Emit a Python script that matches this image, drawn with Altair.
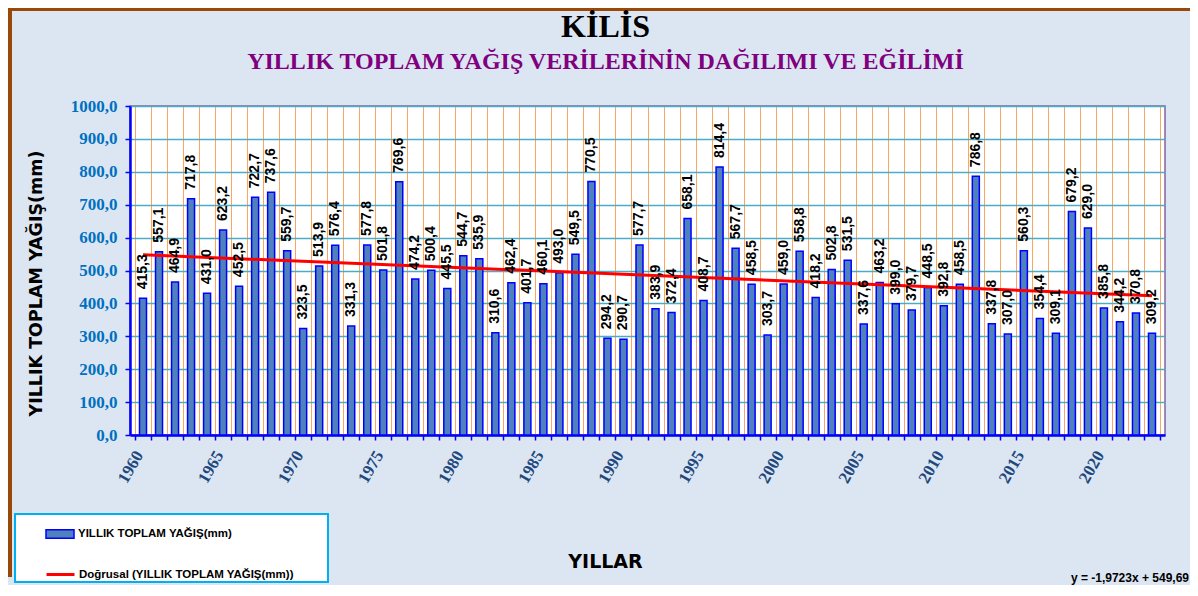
import altair as alt
import pandas as pd

years = list(range(1960, 2024))
values = [415.3, 557.1, 464.9, 717.8, 431.0, 623.2, 452.5, 722.7, 737.6, 559.7,
          323.5, 513.9, 576.4, 331.3, 577.8, 501.8, 769.6, 474.2, 500.4, 445.5,
          544.7, 535.9, 310.6, 462.4, 401.7, 460.1, 493.0, 549.5, 770.5, 294.2,
          290.7, 577.7, 383.9, 372.4, 658.1, 408.7, 814.4, 567.7, 458.5, 303.7,
          459.0, 558.8, 418.2, 502.8, 531.5, 337.6, 463.2, 399.0, 379.7, 448.5,
          392.8, 458.5, 786.8, 337.8, 307.0, 560.3, 354.4, 309.1, 679.2, 629.0,
          385.8, 344.2, 370.8, 309.2]
label_years = [1960, 1965, 1970, 1975, 1980, 1985, 1990, 1995, 2000, 2005, 2010, 2015, 2020]
y_ticks = [0, 100, 200, 300, 400, 500, 600, 700, 800, 900, 1000]
series_bar = "YILLIK TOPLAM  YAĞIŞ(mm)"
series_line = "Doğrusal  (YILLIK TOPLAM YAĞIŞ(mm))"

df = pd.DataFrame({"year": years, "value": values})
boundaries = [y - 0.5 for y in years] + [years[-1] + 0.5]

W, H = 1035, 329
xscale = alt.Scale(domain=[years[0] - 0.5, years[-1] + 0.5], nice=False, zero=False)
yscale = alt.Scale(domain=[0, 1000], nice=False)

grid_axis = alt.Axis(values=boundaries, labels=False, title=None, orient="bottom",
                     grid=True, gridColor="#F79646", gridWidth=1, gridOpacity=0.85,
                     ticks=True, tickColor="#0000FF", tickSize=5, tickWidth=1.5,
                     domain=True, domainColor="#0000FF", domainWidth=2.5)
label_axis = alt.Axis(values=label_years, orient="bottom", grid=False, ticks=False, tickSize=0,
                      domain=False, labelAngle=-60, labelFont="Liberation Serif",
                      labelFontWeight="bold", labelFontSize=17, labelColor="#1F497D",
                      labelPadding=17, labelOffset=-4, format="d",
                      title="YILLAR", titleFont="DejaVu Sans", titleFontWeight="bold",
                      titleFontSize=19, titleColor="black", titleX=475, titleY=117)
y_axis = alt.Axis(values=y_ticks, orient="left", format=".1f", grid=True,
                  gridColor="#4BACC6", gridWidth=1.5,
                  domain=True, domainColor="#0000FF", domainWidth=2.5,
                  ticks=True, tickColor="#0000FF", tickSize=5, tickWidth=1.5,
                  labels=True, labelFont="Liberation Serif", labelFontWeight="bold",
                  labelFontSize=17, labelColor="#0070C0", labelPadding=8,
                  title="YILLIK TOPLAM YAĞIŞ(mm)", titleFont="DejaVu Sans",
                  titleFontWeight="bold", titleFontSize=17.5, titleColor="black",
                  titlePadding=25, titleY=177)

base = alt.Chart(df)

bars = base.transform_calculate(s1=f"'{series_bar}'").mark_bar(
    size=7, stroke="#0000FF", strokeWidth=1.5
).encode(
    x=alt.X("year:Q", scale=xscale, axis=grid_axis),
    y=alt.Y("value:Q", scale=yscale, axis=y_axis),
    fill=alt.Fill("s1:N", scale=alt.Scale(domain=[series_bar], range=["#4F81BD"]),
                  legend=alt.Legend(title=None, orient="none", legendX=-85, legendY=413,
                                    padding=0, symbolType="M-1,-0.3L1,-0.3L1,0.3L-1,0.3Z",
                                    symbolSize=784, symbolStrokeColor="#0000FF",
                                    symbolStrokeWidth=1.5, labelFont="Liberation Sans",
                                    labelFontWeight="bold", labelFontSize=11.5,
                                    labelColor="black", labelOffset=3, labelLimit=400)),
)

texts = base.transform_calculate(
    lab="format(datum.value, '.1f')"
).mark_text(angle=270, align="left", baseline="middle", dx=9, font="Liberation Sans",
            fontWeight="bold", fontSize=14, color="black").encode(
    x=alt.X("year:Q", scale=xscale, axis=None),
    y=alt.Y("value:Q", scale=yscale, axis=y_axis),
    text="lab:N",
)

trend = base.transform_regression("year", "value").transform_calculate(
    s2=f"'{series_line}'"
).mark_line(strokeWidth=3).encode(
    x=alt.X("year:Q", scale=xscale, axis=label_axis),
    y=alt.Y("value:Q", scale=yscale, axis=y_axis),
    stroke=alt.Stroke("s2:N", scale=alt.Scale(domain=[series_line], range=["#FF0000"]),
                      legend=alt.Legend(title=None, orient="none", legendX=-85, legendY=453,
                                        padding=0, symbolType="stroke", symbolSize=784,
                                        symbolStrokeWidth=3, labelFont="Liberation Sans",
                                        labelFontWeight="bold", labelFontSize=11.5,
                                        labelColor="black", labelOffset=3, labelLimit=400)),
)

eq = base.transform_calculate(idx="datum.year - 1959").transform_regression(
    "idx", "value", params=True
).transform_calculate(
    eq="'y = ' + format(datum.coef[1], '.4f') + 'x + ' + format(datum.coef[0], '.2f')"
).mark_text(align="right", baseline="alphabetic", font="Liberation Sans",
            fontWeight="bold", fontSize=12, color="black").encode(
    x=alt.value(1059), y=alt.value(476), text="eq:N"
)

box = alt.Chart(pd.DataFrame({"k": [0]})).mark_rect(
    fill="white", stroke="#00B0F0", strokeWidth=2
).encode(x=alt.value(-115), x2=alt.value(198), y=alt.value(408), y2=alt.value(476))

frame_left = alt.Chart(pd.DataFrame({"k": [0]})).mark_rule(
    color="#984807", strokeWidth=4
).encode(x=alt.value(-120), y=alt.value(-98), y2=alt.value(471))
frame_top = alt.Chart(pd.DataFrame({"k": [0]})).mark_rule(
    color="#984807", strokeWidth=3
).encode(x=alt.value(-122), x2=alt.value(1060), y=alt.value(-96.5))

chart = alt.layer(
    frame_left, frame_top, box, bars, trend, texts, eq
).resolve_axis(x="independent").properties(
    width=W, height=H,
    autosize=alt.AutoSizeParams(type="none"),
    padding={"left": 122, "top": 98, "right": 25, "bottom": 150},
    background="#DCE6F2",
    title=alt.Title(
        text="KİLİS",
        subtitle="YILLIK TOPLAM YAĞIŞ VERİLERİNİN DAĞILIMI VE EĞİLİMİ",
        anchor="middle", frame="group", dx=-42, offset=-69,
        font="Liberation Serif", fontSize=32, fontWeight="bold", color="black",
        subtitleFont="Liberation Serif", subtitleFontSize=24,
        subtitleFontWeight="bold", subtitleColor="#800080", subtitlePadding=6,
    ),
).configure(
    locale=alt.Locale(number=alt.NumberLocale(decimal=",", thousands=".", grouping=[3],
                                              currency=["", ""], minus="-"))
).configure_view(fill="white", stroke="#8064A2", strokeWidth=1.5)

chart.save("out.html", embed_options={"renderer": "svg", "actions": False})
